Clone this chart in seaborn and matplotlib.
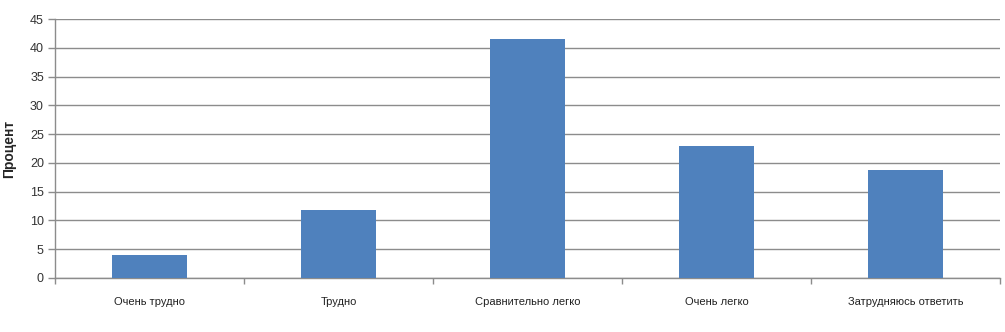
import matplotlib
matplotlib.use("Agg")
import matplotlib.pyplot as plt
import seaborn as sns
import pandas as pd
import numpy as np

categories = ["Очень трудно", "Трудно", "Сравнительно легко", "Очень легко", "Затрудняюсь ответить"]
values = [4.0, 11.8, 41.5, 22.9, 18.7]
y_ticks = [0, 5, 10, 15, 20, 25, 30, 35, 40, 45]
y_label = "Процент"

sns.set_theme(style="white")
plt.rcParams["font.family"] = ["Liberation Sans", "DejaVu Sans"]

df = pd.DataFrame({"cat": categories, "val": values})

fig = plt.figure(figsize=(10.05, 3.32), dpi=100)
ax = fig.add_axes([55/1005, (332-278)/332, (1000-55)/1005, (278-19)/332])

sns.barplot(data=df, x="cat", y="val", color="#4F81BD", width=0.4, ax=ax,
            saturation=1, linewidth=0, edgecolor="none", zorder=3)

ax.set_ylim(0, 45)
ax.set_xlim(-0.5, len(categories) - 0.5)
ax.set_yticks(y_ticks)
ax.yaxis.grid(True, color="#8c8c8c", linewidth=1.0, zorder=0)
ax.set_axisbelow(True)

for s in ["top", "right"]:
    ax.spines[s].set_visible(False)
for s in ["left", "bottom"]:
    ax.spines[s].set_color("#8c8c8c")
    ax.spines[s].set_linewidth(1.0)

ax.tick_params(axis="y", which="major", left=True, length=5, width=1, color="#8c8c8c",
               labelsize=9, labelcolor="#333333", pad=3)
ax.tick_params(axis="x", which="major", bottom=False, length=0, labelsize=8,
               labelcolor="#222222", pad=14)
ax.set_xticks(np.arange(-0.5, len(categories) + 0.5, 1), minor=True)
ax.tick_params(axis="x", which="minor", bottom=True, length=4, width=1, color="#8c8c8c")

ax.set_xlabel("")
ax.set_ylabel(y_label, fontsize=10, fontweight="bold", labelpad=10)

fig.savefig("out.png", dpi=100)
